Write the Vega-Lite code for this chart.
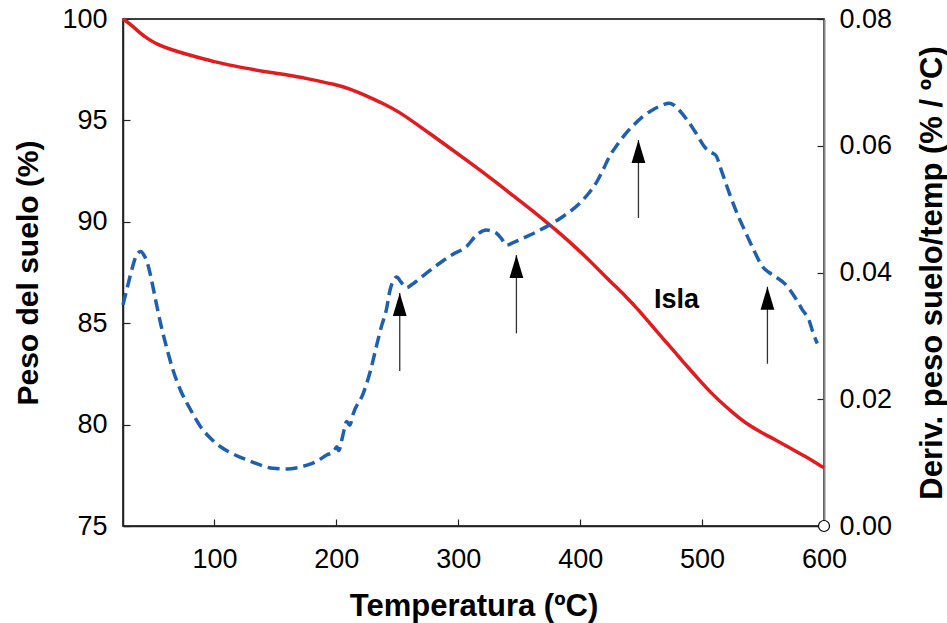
{
  "$schema": "https://vega.github.io/schema/vega-lite/v6.json",
  "width": 701,
  "height": 507,
  "autosize": {"type": "none"},
  "padding": {"left": 123, "top": 19, "right": 123, "bottom": 97},
  "config": {
    "view": {"stroke": "#000000", "strokeWidth": 1.5},
    "font": "Liberation Sans",
    "axis": {
      "labelFont": "Liberation Sans",
      "labelFontSize": 27,
      "labelColor": "#000000",
      "labelFlush": false,
      "labelOverlap": false,
      "titleFont": "Liberation Sans",
      "titleFontSize": 30,
      "titleFontWeight": "bold",
      "titleColor": "#000000",
      "grid": false,
      "domainColor": "#222222",
      "domainWidth": 1.5,
      "tickColor": "#222222",
      "tickWidth": 1.2,
      "tickSize": -7
    }
  },
  "datasets": {
    "weight": [
      {"temp": 25, "peso": 100},
      {"temp": 32, "peso": 99.7},
      {"temp": 39, "peso": 99.3},
      {"temp": 46, "peso": 99.0},
      {"temp": 53, "peso": 98.75},
      {"temp": 64, "peso": 98.5},
      {"temp": 75, "peso": 98.3},
      {"temp": 87, "peso": 98.1},
      {"temp": 99, "peso": 97.9},
      {"temp": 115, "peso": 97.7},
      {"temp": 132, "peso": 97.5},
      {"temp": 148, "peso": 97.35},
      {"temp": 165, "peso": 97.2},
      {"temp": 181, "peso": 97.0},
      {"temp": 197, "peso": 96.8},
      {"temp": 212, "peso": 96.55},
      {"temp": 225, "peso": 96.2},
      {"temp": 238, "peso": 95.85},
      {"temp": 252, "peso": 95.4},
      {"temp": 265, "peso": 94.85},
      {"temp": 279, "peso": 94.25},
      {"temp": 294, "peso": 93.6},
      {"temp": 310, "peso": 92.9},
      {"temp": 330, "peso": 92.0},
      {"temp": 350, "peso": 91.05},
      {"temp": 365, "peso": 90.35},
      {"temp": 377, "peso": 89.75},
      {"temp": 383, "peso": 89.45},
      {"temp": 398, "peso": 88.65},
      {"temp": 410, "peso": 87.95},
      {"temp": 424, "peso": 87.1},
      {"temp": 437.7, "peso": 86.31},
      {"temp": 448, "peso": 85.65},
      {"temp": 459.5, "peso": 84.83},
      {"temp": 469, "peso": 84.17},
      {"temp": 478.6, "peso": 83.51},
      {"temp": 488, "peso": 82.85},
      {"temp": 497.7, "peso": 82.2},
      {"temp": 508, "peso": 81.52},
      {"temp": 519.5, "peso": 80.88},
      {"temp": 528, "peso": 80.45},
      {"temp": 536, "peso": 80.06},
      {"temp": 548, "peso": 79.63},
      {"temp": 560.4, "peso": 79.24},
      {"temp": 572, "peso": 78.85},
      {"temp": 585, "peso": 78.42},
      {"temp": 596.4, "peso": 78.0},
      {"temp": 600, "peso": 77.88}
    ],
    "deriv": [
      {"temp": 25, "dtg": 0.0349},
      {"temp": 29, "dtg": 0.038},
      {"temp": 33, "dtg": 0.041},
      {"temp": 36, "dtg": 0.0427},
      {"temp": 39.5, "dtg": 0.0433},
      {"temp": 42, "dtg": 0.0428},
      {"temp": 45, "dtg": 0.0415},
      {"temp": 48, "dtg": 0.0392},
      {"temp": 51.7, "dtg": 0.0357},
      {"temp": 56, "dtg": 0.0318},
      {"temp": 61.3, "dtg": 0.0278},
      {"temp": 66, "dtg": 0.0246},
      {"temp": 72, "dtg": 0.0215},
      {"temp": 80, "dtg": 0.0185},
      {"temp": 88.5, "dtg": 0.0157},
      {"temp": 96, "dtg": 0.014},
      {"temp": 105, "dtg": 0.0125},
      {"temp": 115, "dtg": 0.0114},
      {"temp": 127, "dtg": 0.0104},
      {"temp": 138, "dtg": 0.0096},
      {"temp": 148, "dtg": 0.0091},
      {"temp": 159.5, "dtg": 0.009},
      {"temp": 168, "dtg": 0.0092},
      {"temp": 176, "dtg": 0.0096},
      {"temp": 184, "dtg": 0.0102},
      {"temp": 192, "dtg": 0.0112},
      {"temp": 197.6, "dtg": 0.0117},
      {"temp": 200.4, "dtg": 0.0125},
      {"temp": 202, "dtg": 0.0119},
      {"temp": 205, "dtg": 0.014},
      {"temp": 208.5, "dtg": 0.0165},
      {"temp": 211, "dtg": 0.0159},
      {"temp": 214, "dtg": 0.0178},
      {"temp": 222, "dtg": 0.0209},
      {"temp": 228, "dtg": 0.0245},
      {"temp": 232.8, "dtg": 0.0283},
      {"temp": 237, "dtg": 0.0315},
      {"temp": 241, "dtg": 0.0341},
      {"temp": 244, "dtg": 0.0372},
      {"temp": 247, "dtg": 0.0388},
      {"temp": 249.5, "dtg": 0.0393},
      {"temp": 253, "dtg": 0.0385},
      {"temp": 257.7, "dtg": 0.0376},
      {"temp": 262, "dtg": 0.0381},
      {"temp": 268.7, "dtg": 0.0391},
      {"temp": 276, "dtg": 0.0402},
      {"temp": 285, "dtg": 0.0415},
      {"temp": 295, "dtg": 0.0428},
      {"temp": 306.8, "dtg": 0.0441},
      {"temp": 315, "dtg": 0.0459},
      {"temp": 323, "dtg": 0.0467},
      {"temp": 331.3, "dtg": 0.0462},
      {"temp": 336, "dtg": 0.0452},
      {"temp": 339.5, "dtg": 0.0443},
      {"temp": 345, "dtg": 0.0447},
      {"temp": 353, "dtg": 0.0454},
      {"temp": 362, "dtg": 0.0462},
      {"temp": 372, "dtg": 0.0472},
      {"temp": 385.6, "dtg": 0.0488},
      {"temp": 399.4, "dtg": 0.0509},
      {"temp": 407, "dtg": 0.0525},
      {"temp": 413, "dtg": 0.0541},
      {"temp": 419, "dtg": 0.0563},
      {"temp": 424, "dtg": 0.0583},
      {"temp": 431, "dtg": 0.0603},
      {"temp": 437.7, "dtg": 0.062},
      {"temp": 444, "dtg": 0.0633},
      {"temp": 451.3, "dtg": 0.0646},
      {"temp": 458, "dtg": 0.0655},
      {"temp": 465, "dtg": 0.0662},
      {"temp": 473.1, "dtg": 0.0667},
      {"temp": 477, "dtg": 0.0664},
      {"temp": 481.3, "dtg": 0.0656},
      {"temp": 488, "dtg": 0.064},
      {"temp": 495, "dtg": 0.062},
      {"temp": 503, "dtg": 0.0596},
      {"temp": 507, "dtg": 0.059},
      {"temp": 511.2, "dtg": 0.0585},
      {"temp": 516, "dtg": 0.056},
      {"temp": 522.4, "dtg": 0.0525},
      {"temp": 529, "dtg": 0.0492},
      {"temp": 536, "dtg": 0.0462},
      {"temp": 543, "dtg": 0.0433},
      {"temp": 549.6, "dtg": 0.0409},
      {"temp": 555, "dtg": 0.04},
      {"temp": 560.5, "dtg": 0.0393},
      {"temp": 568, "dtg": 0.0382},
      {"temp": 574.1, "dtg": 0.0367},
      {"temp": 579, "dtg": 0.0352},
      {"temp": 582.3, "dtg": 0.0341},
      {"temp": 587.7, "dtg": 0.0325},
      {"temp": 591, "dtg": 0.0305},
      {"temp": 594.5, "dtg": 0.0288}
    ],
    "marker": [{"temp": 600, "dtg": 0}],
    "arrows": [
      {"temp": 252, "base": 82.64, "tip": 86.49},
      {"temp": 347.7, "base": 84.5, "tip": 88.36},
      {"temp": 447.8, "base": 90.19, "tip": 94.03},
      {"temp": 553.6, "base": 83.0, "tip": 86.8}
    ],
    "labels": [{"temp": 479, "peso": 85.73, "text": "Isla"}]
  },
  "layer": [
    {
      "layer": [
        {
          "data": {"name": "weight"},
          "mark": {"type": "line", "color": "#e31b1f", "strokeWidth": 3.5, "interpolate": "basis"},
          "encoding": {
            "x": {
              "field": "temp", "type": "quantitative",
              "scale": {"domain": [25, 600], "nice": false, "zero": false},
              "axis": {
                "title": "Temperatura (ºC)",
                "values": [100, 200, 300, 400, 500, 600],
                "labelPadding": 27,
                "titleFontSize": 31,
                "titleY": 89,
                "titleBaseline": "alphabetic"
              }
            },
            "y": {
              "field": "peso", "type": "quantitative",
              "scale": {"domain": [75, 100], "nice": false, "zero": false},
              "axis": {
                "title": "Peso del suelo (%)",
                "orient": "left",
                "values": [75, 80, 85, 90, 95, 100],
                "labelPadding": 23,
                "titleAngle": 270,
                "titleX": -86,
                "titleBaseline": "alphabetic",
                "titleAlign": "center"
              }
            }
          }
        },
        {
          "data": {"name": "arrows"},
          "mark": {"type": "rule", "color": "#333333", "strokeWidth": 1.3},
          "encoding": {
            "x": {"field": "temp", "type": "quantitative"},
            "y": {"field": "base", "type": "quantitative"},
            "y2": {"field": "tip"}
          }
        },
        {
          "data": {"name": "arrows"},
          "mark": {"type": "point", "shape": "M0,0L0.6,2L-0.6,2Z", "filled": true, "color": "#000000", "size": 529, "opacity": 1},
          "encoding": {
            "x": {"field": "temp", "type": "quantitative"},
            "y": {"field": "tip", "type": "quantitative"}
          }
        },
        {
          "data": {"name": "labels"},
          "mark": {"type": "text", "font": "Liberation Sans", "fontSize": 27, "fontWeight": "bold", "color": "#000000", "align": "center", "baseline": "alphabetic"},
          "encoding": {
            "x": {"field": "temp", "type": "quantitative"},
            "y": {"field": "peso", "type": "quantitative"},
            "text": {"field": "text"}
          }
        }
      ]
    },
    {
      "layer": [
        {
          "data": {"name": "deriv"},
          "mark": {"type": "line", "color": "#1f5fb0", "strokeWidth": 3.5, "strokeDash": [12, 6], "interpolate": "monotone"},
          "encoding": {
            "x": {"field": "temp", "type": "quantitative"},
            "y": {
              "field": "dtg", "type": "quantitative",
              "scale": {"domain": [0, 0.08], "nice": false, "zero": false},
              "axis": {
                "title": "Deriv. peso suelo/temp (% / ºC)",
                "orient": "right",
                "values": [0, 0.02, 0.04, 0.06, 0.08],
                "format": ".2f",
                "labelPadding": 22,
                "domainColor": "#888888",
                "domainWidth": 2,
                "titleFontSize": 31,
                "titleAngle": 270,
                "titleX": 117,
                "titleBaseline": "alphabetic",
                "titleAlign": "center"
              }
            }
          }
        },
        {
          "data": {"name": "marker"},
          "mark": {"type": "point", "shape": "circle", "filled": true, "fill": "#ffffff", "stroke": "#000000", "strokeWidth": 1.2, "size": 121, "opacity": 1},
          "encoding": {
            "x": {"field": "temp", "type": "quantitative"},
            "y": {"field": "dtg", "type": "quantitative"}
          }
        }
      ]
    }
  ],
  "resolve": {"scale": {"y": "independent"}}
}
